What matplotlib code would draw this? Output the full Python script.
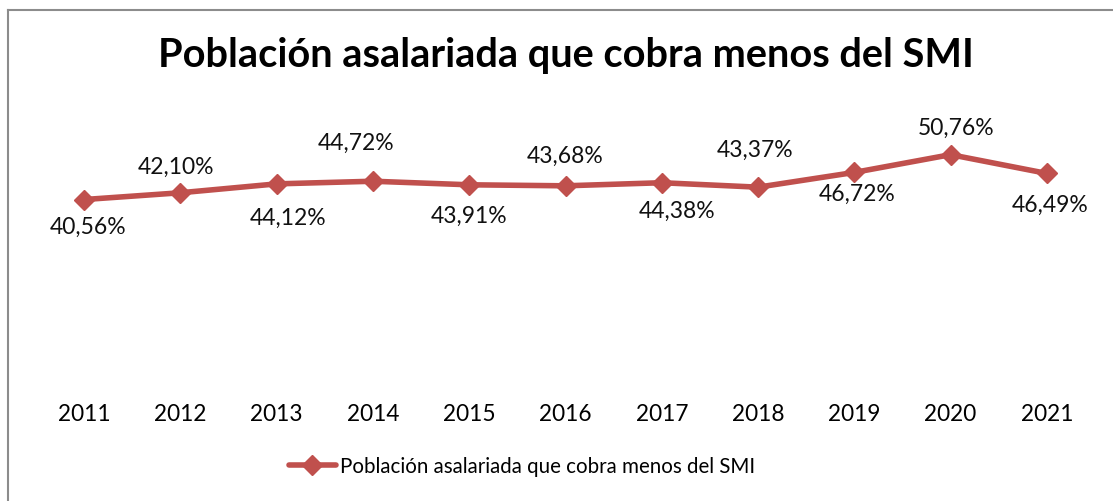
import matplotlib.pyplot as plt
from matplotlib.lines import Line2D

years = ["2011", "2012", "2013", "2014", "2015", "2016",
         "2017", "2018", "2019", "2020", "2021"]
values = [40.56, 42.10, 44.12, 44.72, 43.91, 43.68, 44.38, 43.37, 46.72, 50.76, 46.49]
series_name = "Población asalariada que cobra menos del SMI"
title = "Población asalariada que cobra menos del SMI"

# label offsets in points (dx, dy) relative to each point
label_offsets = [(3, -19), (-3, 19), (8, -24), (-12, 28), (0, -22), (0, 22),
                 (11, -20), (-2, 27), (2, -15), (4, 20), (2, -22)]

red = "#C0504D"
plt.rcParams["font.family"] = ["Lato", "DejaVu Sans"]

W, H = 1113, 502
fig = plt.figure(figsize=(W / 100, H / 100), dpi=100)

# plot area in pixels: left 36, right 1095, top 115, bottom 379
ax = fig.add_axes([36 / W, 1 - 379 / H, (1095 - 36) / W, (379 - 115) / H])
x = list(range(len(years)))
ax.plot(x, values, color=red, lw=4, marker="D", ms=10.5,
        markeredgecolor=red, markerfacecolor=red, solid_capstyle="round")
ax.set_xlim(-0.5, len(years) - 0.5)
ax.set_ylim(0, 60)
ax.set_xticks(x)
ax.set_xticklabels(years, fontsize=16.3)
ax.tick_params(axis="x", length=0, pad=18)
ax.set_yticks([])
for s in ax.spines.values():
    s.set_visible(False)

for xi, v, (dx, dy) in zip(x, values, label_offsets):
    ax.annotate(f"{v:.2f}%".replace(".", ","), (xi, v), xytext=(dx, dy),
                textcoords="offset points", ha="center", va="center",
                fontsize=16.5, color="#111111")

fig.text(566 / W, 1 - 56 / H, title, ha="center", va="center",
         fontsize=28.6, fontweight="bold")

handle = Line2D([], [], color=red, lw=4, marker="D", ms=10.5, solid_capstyle="round")
fig.legend([handle], [series_name], loc="center", bbox_to_anchor=(522 / W, 1 - 467 / H),
           frameon=False, fontsize=14.8, handlelength=2.25, handletextpad=0.2)

# chart frame (only top and left edges are visible in the crop)
fig.add_artist(Line2D([7.5 / W, 1], [1 - 10.5 / H, 1 - 10.5 / H], color="#8c8c8c", lw=1.5))
fig.add_artist(Line2D([7.5 / W, 7.5 / W], [1 - 10.5 / H, 0], color="#8c8c8c", lw=1.5))

fig.savefig("out.png", dpi=100)
